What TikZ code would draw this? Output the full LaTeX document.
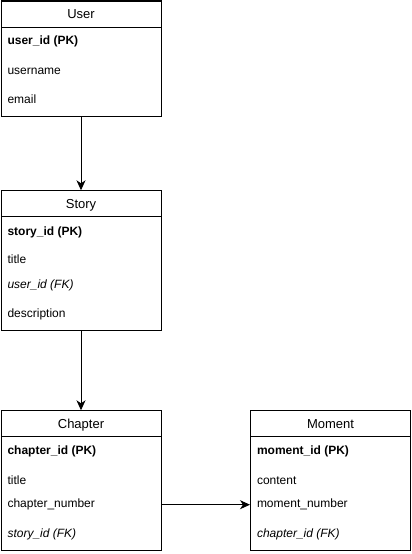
\documentclass[tikz,border=0pt]{standalone}
\usepackage{fontspec}
\setmainfont{Liberation Sans}
\usetikzlibrary{arrows.meta,positioning}

\begin{document}
\begin{tikzpicture}[->,line width=1pt,>={Stealth[length=10pt,width=9pt,inset=3pt]},
  x=1pt,y=-1pt,
  tbl/.style={draw,-,anchor=north west,minimum width=160pt,inner sep=0pt},
  hdr/.style={tbl,minimum height=26pt,text height=10pt,text depth=0pt,
    font=\fontsize{13}{15}\selectfont},
  fld/.style={anchor=west,inner sep=0pt,text height=9pt,text depth=3pt,
    font=\fontsize{12}{14}\selectfont}]
\useasboundingbox (0,0) rectangle (412,554);
% User
\node [tbl,minimum height=115.5pt] (user) at (0.5,0.5) {};
\node [hdr] (userhead) at (user.north west) {User};
\node [fld] (userid) at (7,41.3) {\textbf{user\_id (PK)}};
\node [fld] (username) at (7,71) {username};
\node [fld] (useremail) at (7,100.3) {email};
% Story
\node [tbl,minimum height=140pt] (story) at (0.5,190.3) {};
\node [hdr] (storyhead) at (story.north west) {Story};
\node [fld] (storyid) at (7,232) {\textbf{story\_id (PK)}};
\node [fld] (storytitle) at (7,260.7) {title};
\node [fld] (storyuser) at (7,285.3) {\textit{user\_id (FK)}};
\node [fld] (storydesc) at (7,314.7) {description};
% Chapter
\node [tbl,minimum height=140pt] (chapter) at (0.5,410.3) {};
\node [hdr] (chapterhead) at (chapter.north west) {Chapter};
\node [fld] (chapterid) at (7,451.3) {\textbf{chapter\_id (PK)}};
\node [fld] (chaptertitle) at (7,481) {title};
\node [fld] (chapternum) at (7,504.7) {chapter\_number};
\node [fld] (chapterstory) at (7,534.3) {\textit{story\_id (FK)}};
% Moment
\node [tbl,minimum height=140pt] (moment) at (250,410.3) {};
\node [hdr] (momenthead) at (moment.north west) {Moment};
\node [fld] (momentid) at (256.5,451.3) {\textbf{moment\_id (PK)}};
\node [fld] (momentcontent) at (256.5,481) {content};
\node [fld] (momentnum) at (256.5,504.7) {moment\_number};
\node [fld] (momentchapter) at (256.5,534.3) {\textit{chapter\_id (FK)}};

\draw (user.south) -- (story.north);
\draw (story.south) -- (chapter.north);
\draw (chapternum -| chapter.east) -- (momentnum -| moment.west);
\end{tikzpicture}
\end{document}
